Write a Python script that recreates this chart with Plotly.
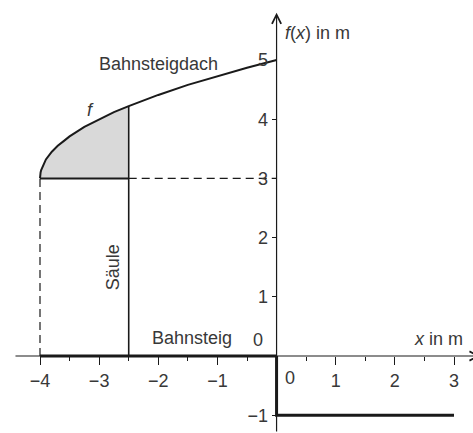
import plotly.graph_objects as go

# ---- data ----
curve_x = [-4, -3.998, -3.99, -3.98, -3.95, -3.9, -3.8, -3.7, -3.6, -3.5,
           -3.25, -3.0, -2.75, -2.5, -2.0, -1.5, -1.0, -0.5, 0]
curve_y = [3.0, 3.045, 3.10, 3.14, 3.22, 3.32, 3.45, 3.55, 3.63, 3.71,
           3.87, 4.0, 4.12, 4.22, 4.41, 4.58, 4.73, 4.87, 5.0]

pillar_x = -2.5          # Säule
roof_base_y = 3          # lower edge of shaded roof part
left_x = -4              # start of roof / platform
platform_x = [-4, 0]     # Bahnsteig
platform_y = [0, 0]
track_x = [0, 0, 3]
track_y = [0, -1, -1]

xticks = [-4, -3, -2, -1, 0, 1, 2, 3]
xtick_text = ["−4", "−3", "−2", "−1", "", "1", "2", "3"]
xminor = [-3.5, -2.5, -1.5, -0.5, 0.5, 1.5, 2.5]
yticks = [-1, 0, 1, 2, 3, 4, 5]
ytick_text = ["−1", "", "1", "2", "3", "4", "5"]

# ---- layout constants ----
W, H = 473, 433
XR = [-4.6763, 3.3213]
YR = [-1.3007, 6.0135]
INK = "#1a1a1a"
TXT = "#383838"
FONT = "Liberation Sans, Arial, sans-serif"
FS = 18

pillar_top = curve_y[curve_x.index(pillar_x)]
fill_x = [x for x in curve_x if x <= pillar_x] + [pillar_x, left_x]
fill_y = [y for x, y in zip(curve_x, curve_y) if x <= pillar_x] + [roof_base_y, roof_base_y]

fig = go.Figure()

def line(xs, ys, w, dash=None):
    fig.add_trace(go.Scatter(x=xs, y=ys, mode="lines",
                             line=dict(color=INK, width=w, dash=dash),
                             hoverinfo="skip", showlegend=False))

# shaded part of the roof
fig.add_trace(go.Scatter(x=fill_x, y=fill_y, mode="lines", fill="toself",
                         fillcolor="#d9d9d9", line=dict(width=0),
                         hoverinfo="skip", showlegend=False))
# dashed helper lines
line([pillar_x, 0], [roof_base_y, roof_base_y], 1.2, "8px,5px")
line([left_x, left_x], [0, roof_base_y], 1.2, "8px,5px")
# roof curve f
line(curve_x, curve_y, 2)
# lower roof edge
line([left_x, pillar_x], [roof_base_y, roof_base_y], 2)
# pillar
line([pillar_x, pillar_x], [0, pillar_top], 1.6)
# platform and track
line(platform_x, platform_y, 3)
line(track_x, track_y, 3)

annotations = []
# axes with arrows
annotations.append(dict(x=0, y=5.80, ax=0, ay=YR[0], xref="x", yref="y",
                        axref="x", ayref="y", text="", showarrow=True,
                        arrowhead=5, arrowsize=1.5, arrowwidth=1.2, arrowcolor=INK))
annotations.append(dict(x=3.45, y=0, ax=-4.44, ay=0, xref="x", yref="y",
                        axref="x", ayref="y", text="", showarrow=True,
                        arrowhead=5, arrowsize=1.5, arrowwidth=1.2, arrowcolor=INK))

def label(x, y, t, angle=0, xanchor="center"):
    annotations.append(dict(x=x, y=y, xref="x", yref="y", text=t, showarrow=False,
                            textangle=angle, xanchor=xanchor, yanchor="middle",
                            font=dict(family=FONT, size=FS, color=TXT)))

label(-4.68, 5.57, "ne", xanchor="left")
label(-2.00, 4.93, "Bahnsteigdach")
label(-3.15, 4.16, "<i>f</i>")
label(-2.765, 1.50, "Säule", angle=-90)
label(-1.43, 0.30, "Bahnsteig")
label(-0.31, 0.27, "0")
label(2.73, 0.29, "<i>x</i> in m")
label(0.70, 5.46, "<i>f</i>(<i>x</i>) in m")
label(0.22, -0.37, "0")

xpos = (0 - YR[0]) / (YR[1] - YR[0])
ypos = (0 - XR[0]) / (XR[1] - XR[0])

fig.update_layout(
    width=W, height=H, margin=dict(l=0, r=0, t=0, b=0),
    paper_bgcolor="white", plot_bgcolor="white",
    annotations=annotations,
    font=dict(family=FONT, size=FS, color=TXT),
    xaxis=dict(range=XR, anchor="free", position=xpos, showgrid=False,
               zeroline=False, showline=False, tickmode="array",
               tickvals=xticks, ticktext=xtick_text, ticks="outside",
               ticklen=8, tickwidth=1.2, tickcolor=INK,
               minor=dict(tickmode="array", tickvals=xminor, ticks="outside",
                          ticklen=4, tickwidth=1.2, tickcolor=INK),
               tickfont=dict(family=FONT, size=FS, color=TXT)),
    yaxis=dict(range=YR, anchor="free", position=ypos, showgrid=False,
               zeroline=False, showline=False, tickmode="array",
               tickvals=yticks, ticktext=ytick_text, ticks="outside",
               ticklen=5, tickwidth=1.2, tickcolor=INK,
               tickfont=dict(family=FONT, size=FS, color=TXT)),
)

fig.write_html("out.html", config={"displayModeBar": False},
               post_script="document.body.style.margin='0';document.body.style.overflow='hidden';")
